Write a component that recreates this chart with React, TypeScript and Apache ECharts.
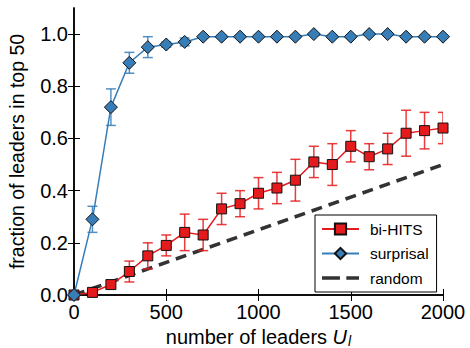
import React, { useEffect, useRef } from "react";
import * as echarts from "echarts";

const xValues = [0, 100, 200, 300, 400, 500, 600, 700, 800, 900, 1000, 1100, 1200, 1300, 1400, 1500, 1600, 1700, 1800, 1900, 2000];
const biHits = [0.0, 0.01, 0.04, 0.09, 0.15, 0.19, 0.24, 0.23, 0.33, 0.35, 0.39, 0.41, 0.44, 0.51, 0.5, 0.57, 0.53, 0.56, 0.62, 0.63, 0.64];
const biHitsErr = [0, 0.005, 0.01, 0.04, 0.05, 0.04, 0.07, 0.06, 0.06, 0.05, 0.06, 0.06, 0.08, 0.06, 0.08, 0.06, 0.05, 0.06, 0.088, 0.07, 0.06];
const surprisal = [0.0, 0.29, 0.72, 0.89, 0.95, 0.96, 0.97, 0.99, 0.99, 0.99, 0.99, 0.99, 0.99, 1.0, 0.99, 0.99, 1.0, 1.0, 0.99, 0.99, 0.99];
const surprisalErr = [0, 0.05, 0.07, 0.04, 0.04, 0.01, 0.015, 0.005, 0.005, 0.005, 0.005, 0.005, 0.005, 0.005, 0.005, 0.005, 0.005, 0.005, 0.005, 0.005, 0.005];
const randomX = [0, 2000];
const randomY = [0, 0.5];
const xTicks = [0, 500, 1000, 1500, 2000];
const yTicks = [0, 0.2, 0.4, 0.6, 0.8, 1.0];

const FONT = "'Liberation Sans', Arial, Helvetica, sans-serif";
const RED = "#e41a1c";
const BLUE = "#377eb8";

function errorBarRender(color: string) {
  return (params: any, api: any) => {
    const x = api.value(0);
    const y = api.value(1);
    const e = api.value(2);
    const top = api.coord([x, y + e]);
    const bot = api.coord([x, y - e]);
    const half = 5;
    const style = { stroke: color, lineWidth: 1.5, opacity: 0.85 };
    return {
      type: "group",
      children: [
        { type: "line", shape: { x1: top[0], y1: top[1], x2: bot[0], y2: bot[1] }, style },
        { type: "line", shape: { x1: top[0] - half, y1: top[1], x2: top[0] + half, y2: top[1] }, style },
        { type: "line", shape: { x1: bot[0] - half, y1: bot[1], x2: bot[0] + half, y2: bot[1] }, style },
      ],
    };
  };
}

export default function App() {
  const ref = useRef<HTMLDivElement>(null);
  useEffect(() => {
    if (!ref.current) return;
    const chart = echarts.init(ref.current, undefined, { renderer: "svg" });
    const axisLine = { show: true, lineStyle: { color: "#000", width: 1.5 } };
    const tick = { show: true, inside: true, length: 6, lineStyle: { color: "#000", width: 1 } };
    chart.setOption({
      animation: false,
      backgroundColor: "#fff",
      textStyle: { fontFamily: FONT },
      grid: { left: 74, right: 27, top: 8, bottom: 53, containLabel: false, outerBoundsMode: "none" },
      legend: {
        data: [
          { name: "bi-HITS" },
          { name: "surprisal" },
          {
            name: "random",
            icon: "path://M0,0h17v3.5H0zM23,0h12v3.5H23z",
            itemStyle: { color: "#333", opacity: 1 },
          },
        ],
        orient: "vertical",
        left: 315,
        top: 215,
        padding: [6, 8, 6, 6],
        itemWidth: 37,
        itemHeight: 14,
        itemGap: 8.5,
        borderColor: "#000",
        borderWidth: 1,
        borderRadius: 0,
        backgroundColor: "#fff",
        selectedMode: false,
        textStyle: { fontSize: 15.5, color: "#000", fontFamily: FONT, padding: [0, 0, 0, 6] },
      },
      xAxis: [
        {
          type: "value",
          min: 0,
          max: 2000,
          interval: 500,
          name: "number of leaders {u|U}{l|l}",
          nameLocation: "middle",
          nameGap: 22,
          nameTextStyle: {
            fontSize: 20,
            color: "#000",
            fontFamily: FONT,
            rich: {
              u: { fontSize: 20, fontStyle: "italic", fontFamily: FONT, color: "#000" },
              l: { fontSize: 14, fontStyle: "italic", fontFamily: FONT, color: "#000", verticalAlign: "bottom", padding: [8, 0, 0, 1] },
            },
          },
          axisLine,
          axisTick: tick,
          splitLine: { show: false },
          axisLabel: {
            fontSize: 20,
            color: "#000",
            margin: 7,
            fontFamily: FONT,
            customValues: xTicks,
            formatter: (v: number) => String(v),
          },
        },
        {
          type: "value",
          position: "top",
          min: 0,
          max: 2000,
          interval: 500,
          axisLine,
          axisTick: tick,
          axisLabel: { show: false },
          splitLine: { show: false },
        },
      ],
      yAxis: [
        {
          type: "value",
          min: 0,
          max: 1.1,
          interval: 0.2,
          name: "fraction of leaders in top 50",
          nameLocation: "middle",
          nameGap: 47,
          nameTextStyle: { fontSize: 19.5, color: "#000", fontFamily: FONT },
          axisLine,
          axisTick: { ...tick, customValues: yTicks },
          splitLine: { show: false },
          axisLabel: {
            fontSize: 20,
            color: "#000",
            margin: 6,
            fontFamily: FONT,
            customValues: yTicks,
            formatter: (v: number) => v.toFixed(1),
          },
        },
        {
          type: "value",
          position: "right",
          min: 0,
          max: 1.1,
          interval: 0.2,
          axisLine,
          axisTick: { ...tick, customValues: yTicks },
          axisLabel: { show: false },
          splitLine: { show: false },
        },
      ],
      series: [
        {
          name: "random",
          type: "line",
          data: randomX.map((x, i) => [x, randomY[i]]),
          symbol: "none",
          lineStyle: { color: "#333", width: 3.5, type: [11, 7] },
          itemStyle: { color: "#333" },
          z: 1,
        },
        {
          name: "bi-HITS-err",
          type: "custom",
          renderItem: errorBarRender(RED),
          data: xValues.map((x, i) => [x, biHits[i], biHitsErr[i]]),
          encode: { x: 0, y: 1 },
          clip: true,
          z: 2,
        },
        {
          name: "bi-HITS",
          type: "line",
          data: xValues.map((x, i) => [x, biHits[i]]),
          symbol: "rect",
          symbolSize: 10,
          showAllSymbol: true,
          lineStyle: { color: RED, width: 1.5 },
          itemStyle: { color: RED, borderColor: "#111", borderWidth: 1 },
          clip: true,
          z: 3,
        },
        {
          name: "surprisal-err",
          type: "custom",
          renderItem: errorBarRender(BLUE),
          data: xValues.map((x, i) => [x, surprisal[i], surprisalErr[i]]),
          encode: { x: 0, y: 1 },
          clip: true,
          z: 4,
        },
        {
          name: "surprisal",
          type: "line",
          data: xValues.map((x, i) => [x, surprisal[i]]),
          symbol: "diamond",
          symbolSize: 13,
          showAllSymbol: true,
          lineStyle: { color: BLUE, width: 1.5 },
          itemStyle: { color: BLUE, borderColor: "#111", borderWidth: 1 },
          clip: true,
          z: 5,
        },
      ],
    });
    return () => chart.dispose();
  }, []);
  return <div ref={ref} style={{ width: 470, height: 348, position: "absolute", left: 0, top: 0 }} />;
}
